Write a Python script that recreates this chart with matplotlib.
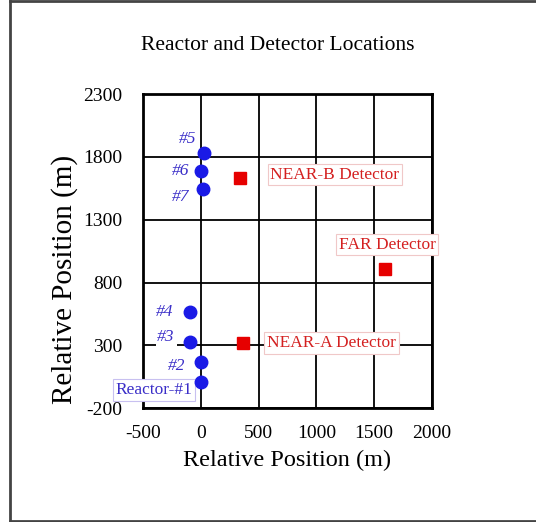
import matplotlib
matplotlib.use("Agg")
import matplotlib.pyplot as plt

# ---- data ----
reactor_names = ["Reactor-#1", "#2", "#3", "#4", "#5", "#6", "#7"]
reactor_x = [0, -2, -95, -95, 30, 0, 20]
reactor_y = [10, 170, 325, 570, 1830, 1690, 1545]

detector_names = ["NEAR-A Detector", "NEAR-B Detector", "FAR Detector"]
detector_x = [365, 340, 1595]
detector_y = [320, 1635, 910]

xticks = [-500, 0, 500, 1000, 1500, 2000]
yticks = [-200, 300, 800, 1300, 1800, 2300]

# ---- styling / layout ----
plt.rcParams['font.family'] = ['Liberation Serif', 'DejaVu Serif']
plt.rcParams['axes.unicode_minus'] = False
fig = plt.figure(figsize=(5.36, 5.22), dpi=100)
ax = fig.add_axes([0.2674, 0.2178, 0.538, 0.602])

# figure frame
fig.add_artist(plt.Line2D([10/536, 10/536], [0.5/522, 521/522], transform=fig.transFigure,
                          color="#444444", lw=2))
fig.add_artist(plt.Line2D([10/536, 1.0], [521/522, 521/522], transform=fig.transFigure,
                          color="#444444", lw=2))
fig.add_artist(plt.Line2D([10/536, 1.0], [1.5/522, 1.5/522], transform=fig.transFigure,
                          color="#444444", lw=2))

ax.set_xlim(xticks[0], xticks[-1])
ax.set_ylim(yticks[0], yticks[-1])
ax.set_xticks(xticks)
ax.set_yticks(yticks)
ax.grid(True, color="black", lw=1.3, zorder=0)
ax.set_axisbelow(True)
ax.tick_params(length=0, labelsize=14)
ax.tick_params(axis='x', pad=12)
ax.tick_params(axis='y', pad=15)
for s in ax.spines.values():
    s.set_linewidth(2)
    s.set_color("black")

ax.plot(reactor_x, reactor_y, 'o', color="#1a1ae6", markersize=9, zorder=5, linestyle='none')
ax.plot(detector_x, detector_y, 's', color="#e60000", markersize=8, zorder=5, linestyle='none')

# reactor labels (offset pixels from the points)
r_offsets = {"Reactor-#1": (-47, -8), "#2": (-24, -4), "#3": (-24, 5), "#4": (-25, 0),
             "#5": (-17, 14), "#6": (-20, 0), "#7": (-23, -8)}
for name, x, y in zip(reactor_names, reactor_x, reactor_y):
    dx, dy = r_offsets[name]
    if name.startswith("Reactor"):
        bbox = dict(boxstyle="square,pad=0.15", fc="white", ec="#c8c0f0", lw=0.8)
        style = "normal"
    else:
        bbox = dict(boxstyle="square,pad=0.1", fc="white", ec="none")
        style = "italic"
    ax.annotate(name, (x, y), xytext=(dx, dy), textcoords="offset pixels",
                ha="center", va="center", fontsize=12.5, color="#3a2ec8",
                style=style, bbox=bbox, zorder=4)

d_offsets = {"NEAR-A Detector": (24, 0, "left"), "NEAR-B Detector": (30, 3, "left"),
             "FAR Detector": (2, 24, "center")}
for name, x, y in zip(detector_names, detector_x, detector_y):
    dx, dy, ha = d_offsets[name]
    ax.annotate(name, (x, y), xytext=(dx, dy), textcoords="offset pixels",
                ha=ha, va="center", fontsize=12.5, color="#d42020",
                bbox=dict(boxstyle="square,pad=0.15", fc="white", ec="#f0c8c8", lw=0.8),
                zorder=4)

fig.text(0.519, 1 - 45/522, "Reactor and Detector Locations", ha="center", va="center",
         fontsize=15.5)
ax.set_xlabel("Relative Position (m)", fontsize=17.5, labelpad=6)
ax.set_ylabel("Relative Position (m)", fontsize=21, labelpad=4)
ax.yaxis.label.set_y(0.41)

fig.savefig("out.png", dpi=100)
